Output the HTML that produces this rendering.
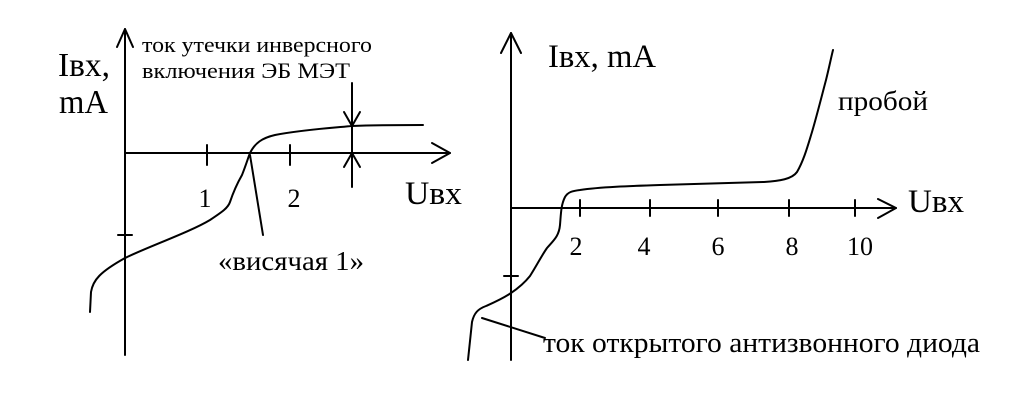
<!DOCTYPE html>
<html><head><meta charset="utf-8"><style>
html,body{margin:0;padding:0;background:#fff;}
svg{display:block;}
text{font-family:"Liberation Serif","DejaVu Serif",serif;fill:#000;}
</style></head><body>
<svg width="1024" height="416" viewBox="0 0 1024 416" xmlns="http://www.w3.org/2000/svg">
<g stroke="#000" stroke-width="2" fill="none" stroke-linejoin="round" stroke-linecap="round">
<line x1="125" y1="29" x2="125" y2="355"/>
<polyline points="117,47 125,29 133,47"/>
<line x1="125" y1="153" x2="450" y2="153"/>
<polyline points="432,143 450,153 432,163"/>
<line x1="207" y1="145" x2="207" y2="165"/>
<line x1="290" y1="145" x2="290" y2="165"/>
<line x1="118" y1="235" x2="132" y2="235"/>
<line x1="352" y1="83" x2="352" y2="187"/>
<polyline points="344,112 352,126 360,112"/>
<polyline points="344,167 352,153 360,167"/>
<path d="M90,312 L91,292 C93,280 100,272 125,258 C150,246 190,232 210,220 C222,212 228,208 230,202 C234,190 238,182 242,175 C246,165 248,158 250,153 C255,143 262,138 275,135 C300,130 330,128 352,126 C380,125 400,125 423,125"/>
<line x1="250" y1="155" x2="263" y2="235"/>
<line x1="511" y1="33" x2="511" y2="360"/>
<polyline points="501,53 511,33 521,53"/>
<line x1="511" y1="208" x2="896" y2="208"/>
<polyline points="878,199 896,208 878,218"/>
<line x1="580" y1="200" x2="580" y2="216"/>
<line x1="650" y1="200" x2="650" y2="216"/>
<line x1="718" y1="200" x2="718" y2="216"/>
<line x1="789" y1="200" x2="789" y2="216"/>
<line x1="855" y1="200" x2="855" y2="216"/>
<line x1="504" y1="276" x2="518" y2="276"/>
<path d="M468,360 L472,322 C474,313 478,309 486,306 C495,302 502,299 511,293 C520,287 526,281 530,276 C537,265 542,255 547,248 C554,240 559,236 560,225 C561,213 561,205 565,197 C568,192 572,191 580,190 C600,187 630,186 660,185 C690,184 730,183 764,182 C780,181 792,179 797,172 C804,160 808,145 812,132 C817,115 822,95 826,80 C829,68 831,58 833,50"/>
<line x1="482" y1="318" x2="545" y2="338"/>
</g>
<text x="142" y="52" font-size="22" textLength="230" lengthAdjust="spacingAndGlyphs">ток утечки инверсного</text>
<text x="142" y="78" font-size="22" textLength="208" lengthAdjust="spacingAndGlyphs">включения ЭБ МЭТ</text>
<text x="58" y="76" font-size="34" textLength="52" lengthAdjust="spacingAndGlyphs">Iвх,</text>
<text x="59" y="113" font-size="34" textLength="49" lengthAdjust="spacingAndGlyphs">mA</text>
<text x="205" y="207" font-size="26" text-anchor="middle">1</text>
<text x="294" y="207" font-size="26" text-anchor="middle">2</text>
<text x="405" y="204" font-size="33" textLength="57" lengthAdjust="spacingAndGlyphs">Uвх</text>
<text x="218" y="270" font-size="27" textLength="146" lengthAdjust="spacingAndGlyphs">«висячая 1»</text>
<text x="548" y="67" font-size="33" textLength="108" lengthAdjust="spacingAndGlyphs">Iвх, mA</text>
<text x="838" y="110" font-size="27" textLength="90" lengthAdjust="spacingAndGlyphs">пробой</text>
<text x="908" y="212" font-size="33" textLength="56" lengthAdjust="spacingAndGlyphs">Uвх</text>
<text x="576" y="255" font-size="26" text-anchor="middle">2</text>
<text x="644" y="255" font-size="26" text-anchor="middle">4</text>
<text x="718" y="255" font-size="26" text-anchor="middle">6</text>
<text x="792" y="255" font-size="26" text-anchor="middle">8</text>
<text x="860" y="255" font-size="26" text-anchor="middle">10</text>
<text x="543" y="352" font-size="28" textLength="437" lengthAdjust="spacingAndGlyphs">ток открытого антизвонного диода</text>
</svg>
</body></html>
